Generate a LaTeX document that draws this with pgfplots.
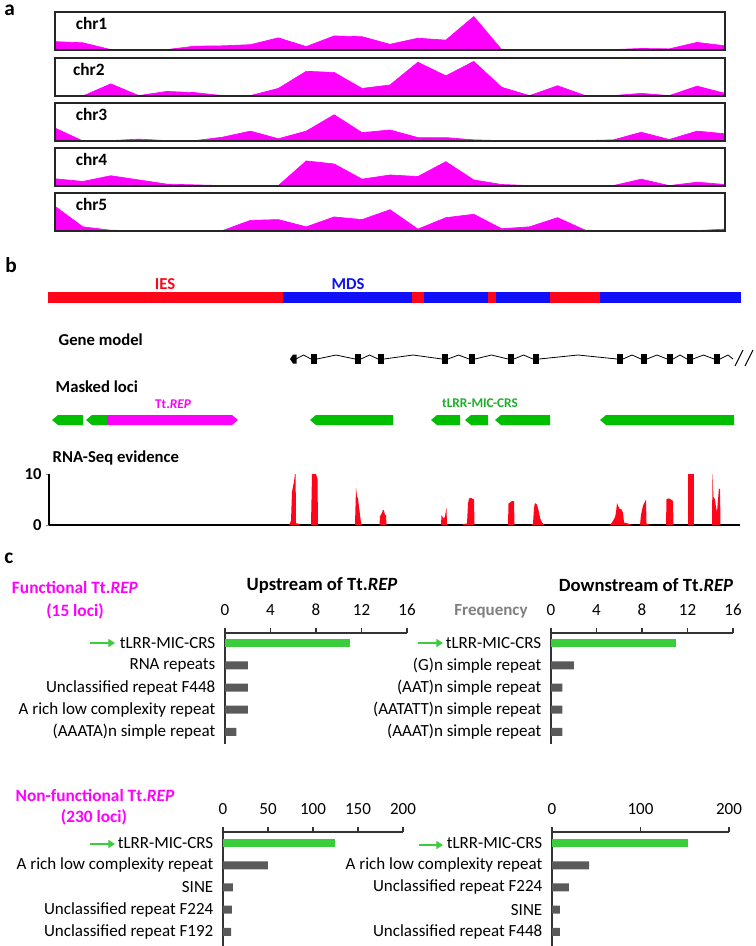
\documentclass[border=0pt]{standalone}
\usepackage{pgfplots}
\pgfplotsset{compat=1.18}
\usepackage{fontspec}
\setmainfont{Carlito}
\usetikzlibrary{arrows.meta}

\definecolor{mag}{RGB}{255,0,255}
\definecolor{ired}{RGB}{255,5,25}
\definecolor{mblue}{RGB}{15,15,250}
\definecolor{lgreen}{RGB}{0,190,0}
\definecolor{bgreen}{RGB}{60,205,60}
\definecolor{dgray}{RGB}{90,90,90}
\definecolor{tgreen}{RGB}{30,175,40}

\pgfplotsset{
  chrax/.style={anchor=north west, scale only axis, width=502.5pt, height=28.5pt,
    xmin=0, xmax=24, ymin=0, ymax=10, xtick=\empty, ytick=\empty,
    axis line style={line width=0.9pt, black!85}, axis on top},
  chrfill/.style={fill=mag, draw=mag, line width=0.5pt},
  hb/.style={anchor=north west, scale only axis, xmin=0,
    axis x line=top, axis y line=left,
    axis line style={-, line width=0.8pt, black!80},
    tick align=outside, major tick length=3.75pt,
    major x tick style={line width=0.8pt, black!80},
    ytick={0,...,4}, major y tick style={draw=none},
    tick label style={font=\fontsize{12.75}{14}\selectfont},
    /pgf/number format/assume math mode=true,
    xticklabel style={yshift=5.5pt},
    clip=false},
}

\begin{document}
\begin{tikzpicture}
\useasboundingbox (0,0) rectangle (567pt,-709.5pt);

% ---------------- panel a ----------------
\begin{axis}[chrax, at={(41.25pt,-9pt)}]
\addplot[chrfill] coordinates {(0,2.2)(1,1.9)(2,0.1)(3,0.1)(4,0.1)(5,1.0)(6,1.1)(7,1.4)(8,3.2)(9,0.9)(10,3.7)(11,3.5)(12,1.5)(13,3.1)(14,2.6)(15,8.8)(16,0.1)(17,0.1)(18,0.1)(19,0.1)(20,0.1)(21,0.4)(22,0.3)(23,2.0)(24,1.1)} \closedcycle;
\node[anchor=west, font=\fontsize{13}{14}\selectfont\bfseries] at (rel axis cs:0.024,0.71) {chr1};
\end{axis}
\begin{axis}[chrax, at={(41.25pt,-43.5pt)}]
\addplot[chrfill] coordinates {(0,0)(1,0)(2,3.2)(3,0.1)(4,1.2)(5,0.9)(6,0.1)(7,0.1)(8,2.0)(9,6.5)(10,6.2)(11,2.0)(12,2.9)(13,8.9)(14,5.3)(15,9.1)(16,2.3)(17,0.1)(18,2.7)(19,0.1)(20,0.1)(21,0.7)(22,0.1)(23,2.6)(24,0.7)} \closedcycle;
\node[anchor=west, font=\fontsize{13}{14}\selectfont\bfseries] at (rel axis cs:0.02,0.71) {chr2};
\end{axis}
\begin{axis}[chrax, at={(41.25pt,-77.25pt)}]
\addplot[chrfill] coordinates {(0,3.4)(1,0)(2,0.1)(3,0.5)(4,0.1)(5,0.1)(6,1.0)(7,2.6)(8,0.6)(9,2.6)(10,6.9)(11,2.2)(12,2.9)(13,0.9)(14,0.9)(15,0.3)(16,0.1)(17,0.1)(18,0.1)(19,0.1)(20,0.3)(21,2.3)(22,0.4)(23,2.6)(24,1.9)} \closedcycle;
\node[anchor=west, font=\fontsize{13}{14}\selectfont\bfseries] at (rel axis cs:0.024,0.71) {chr3};
\end{axis}
\begin{axis}[chrax, at={(41.25pt,-111pt)}]
\addplot[chrfill] coordinates {(0,1.9)(1,1.2)(2,2.7)(3,1.6)(4,0.5)(5,0.3)(6,0.1)(7,0.1)(8,0.1)(9,6.6)(10,5.8)(11,1.8)(12,2.9)(13,2.5)(14,6.4)(15,1.6)(16,0.4)(17,0.1)(18,0.1)(19,0.1)(20,0.1)(21,1.8)(22,0.1)(23,1.0)(24,0.4)} \closedcycle;
\node[anchor=west, font=\fontsize{13}{14}\selectfont\bfseries] at (rel axis cs:0.024,0.71) {chr4};
\end{axis}
\begin{axis}[chrax, at={(41.25pt,-144.75pt)}]
\addplot[chrfill] coordinates {(0,6.5)(1,1.1)(2,0.2)(3,0.1)(4,0.1)(5,0.1)(6,0.1)(7,2.8)(8,3.0)(9,1.1)(10,3.7)(11,3.0)(12,5.6)(13,0.5)(14,3.5)(15,4.4)(16,0.6)(17,1.1)(18,3.5)(19,0.2)(20,0.1)(21,0.1)(22,0.1)(23,0.1)(24,0.5)} \closedcycle;
\node[anchor=west, font=\fontsize{13}{14}\selectfont\bfseries] at (rel axis cs:0.024,0.71) {chr5};
\end{axis}

% ---------------- panel b tracks ----------------
\begin{axis}[at={(0pt,-180pt)}, anchor=north west, scale only axis, width=567pt, height=153.75pt,
  xmin=0, xmax=756, ymin=240, ymax=445, y dir=reverse, hide axis, clip=false]
% IES / MDS bar
\addplot[fill=mblue, draw=none, forget plot] coordinates {(283,292)(741,292)(741,303)(283,303)};
\addplot[fill=ired, draw=none, forget plot] coordinates {(48,292)(283,292)(283,303)(48,303)};
\addplot[fill=ired, draw=none, forget plot] coordinates {(412,292)(424,292)(424,303)(412,303)};
\addplot[fill=ired, draw=none, forget plot] coordinates {(488,292)(496,292)(496,303)(488,303)};
\addplot[fill=ired, draw=none, forget plot] coordinates {(550,292)(600,292)(600,303)(550,303)};
\node[font=\fontsize{12.5}{14}\selectfont\bfseries, text=ired] at (165,284) {IES};
\node[font=\fontsize{12.5}{14}\selectfont\bfseries, text=mblue] at (348,284) {MDS};
% gene model
\node[anchor=west, font=\fontsize{12.5}{14}\selectfont\bfseries] at (54,340) {Gene model};
\addplot[black, line width=0.6pt, no markers, forget plot] coordinates {(296,359)(303.5,355)(311,359)(317,359)(336,355)(355,359)(361,359)(369.5,355)(378,359)(384,359)(413,355)(442,359)(448,359)(458.5,355)(469,359)(475,359)(491.5,355)(508,359)(514,359)(523.5,355)(533,359)(539,359)(578,355)(617,359)(623,359)(632,355)(641,359)(647,359)(657,355)(667,359)(673,359)(680,355)(687,359)(693,359)(703.5,355)(714,359)(720,359)(728,355)(733,359)};
\addplot[black, line width=4.5pt, no markers, unbounded coords=jump, forget plot] coordinates {(314,354)(314,364) (nan,nan) (358,354)(358,364) (nan,nan) (381,354)(381,364) (nan,nan) (445,354)(445,364) (nan,nan) (472,354)(472,364) (nan,nan) (511,354)(511,364) (nan,nan) (536,354)(536,364) (nan,nan) (620,354)(620,364) (nan,nan) (644,354)(644,364) (nan,nan) (670,354)(670,364) (nan,nan) (690,354)(690,364) (nan,nan) (717,354)(717,364)};
\addplot[fill=black, draw=none, forget plot] coordinates {(290,359)(293,354.5)(296.5,354.5)(296.5,363.5)(293,363.5)};
\addplot[black, line width=0.8pt, no markers, unbounded coords=jump, forget plot] coordinates {(735,366)(743,350) (nan,nan) (745,366)(753,350)};
% masked loci
\node[anchor=west, font=\fontsize{12.5}{14}\selectfont\bfseries] at (51,387) {Masked loci};
\node[font=\fontsize{10}{12}\selectfont\bfseries, text=mag] at (173,404) {Tt.\textit{REP}};
\node[font=\fontsize{10}{12}\selectfont\bfseries, text=tgreen] at (480,403) {tLRR-MIC-CRS};
\addplot[fill=lgreen, draw=none, forget plot] coordinates {(52,420)(58,415)(83,415)(83,425)(58,425)};
\addplot[fill=lgreen, draw=none, forget plot] coordinates {(86,420)(92,415)(107,415)(107,425)(92,425)};
\addplot[fill=mag, draw=none, forget plot] coordinates {(107,415)(232,415)(238,420)(232,425)(107,425)};
\addplot[fill=lgreen, draw=none, forget plot] coordinates {(310,420)(316,415)(393,415)(393,425)(316,425)};
\addplot[fill=lgreen, draw=none, forget plot] coordinates {(431,420)(437,415)(460,415)(460,425)(437,425)};
\addplot[fill=lgreen, draw=none, forget plot] coordinates {(465,420)(471,415)(488,415)(488,425)(471,425)};
\addplot[fill=lgreen, draw=none, forget plot] coordinates {(495,420)(501,415)(550,415)(550,425)(501,425)};
\addplot[fill=lgreen, draw=none, forget plot] coordinates {(600,420)(606,415)(734,415)(734,425)(606,425)};
\node[anchor=west, font=\fontsize{12.5}{14}\selectfont\bfseries] at (48,458) {RNA-Seq evidence};
\end{axis}

% RNA-seq evidence
\begin{axis}[at={(36.75pt,-393.75pt)}, anchor=south west, scale only axis, width=518.25pt, height=38.25pt,
  xmin=49, xmax=740, ymin=0, ymax=10, axis x line=bottom, axis y line=left,
  axis line style={-, line width=0.8pt, black}, xtick=\empty, ytick={0,10},
  tick align=outside, major tick length=2pt,
  tick label style={font=\fontsize{12.5}{14}\selectfont\bfseries},
  /pgf/number format/assume math mode=true, clip=false]
\addplot[fill=ired, draw=none] coordinates {(289,0)(290,0.4)(291,0.8)(292,6.5)(293,7.5)(294,8.5)(295,10)(295.6,10)(296,0.3)(298,0.3)(300,0)};
\addplot[fill=ired, draw=none] coordinates {(311,0)(312,10)(316,10)(317.5,9)(318,0)};
\addplot[fill=ired, draw=none] coordinates {(355,0)(356,7.3)(357,5.6)(358,5.2)(359,3.6)(360,2.0)(361,0.5)(361.5,0)};
\addplot[fill=ired, draw=none] coordinates {(379.5,0)(380,1.7)(382,2.4)(383,3.0)(384,2.8)(385,2.0)(386,1.9)(386.5,0)};
\addplot[fill=ired, draw=none] coordinates {(441,0)(441.5,1.9)(443,1.5)(444,1.2)(445,1.8)(446,2.8)(446.5,3.3)(447,0)};
\addplot[fill=ired, draw=none] coordinates {(462,0)(464,0.2)(467,0.3)(468,4.2)(469,5.2)(471,5.3)(474,5.0)(474.5,0)};
\addplot[fill=ired, draw=none] coordinates {(508,0)(508.5,4.2)(510,4.4)(512,4.7)(514,4.7)(514.5,0)};
\addplot[fill=ired, draw=none] coordinates {(531,0)(533,0.2)(534,3.4)(535,4.3)(537,4.0)(538,3.3)(539,2.5)(540,1.4)(542,0.5)(544,0.1)(545,0)};
\addplot[fill=ired, draw=none] coordinates {(610,0)(612,0.5)(615,1.5)(616,2.5)(617,4.3)(618,3.8)(620,3.0)(621,3.2)(623,2.4)(624,0.5)(628,0.3)(632,0)};
\addplot[fill=ired, draw=none] coordinates {(640,0)(641,2.0)(643,3.8)(645,4.6)(646,5.0)(646.5,0.3)(650,0)};
\addplot[fill=ired, draw=none] coordinates {(666,0)(666.5,5.1)(669,5.2)(671,5.0)(673,4.7)(673.5,0)};
\addplot[fill=ired, draw=none] coordinates {(688,0)(688,10)(694,10)(694,0)};
\addplot[fill=ired, draw=none] coordinates {(712,0)(712.5,10)(713.5,5.5)(715,5.0)(716,3.5)(717,2.5)(718,5.0)(719,7.2)(720,7.0)(720.5,0)};
\end{axis}

% ---------------- panel c ----------------
% Functional, upstream
\begin{axis}[hb, at={(168.75pt,-474.75pt)}, width=136.5pt, height=83.25pt,
  xmax=16, xtick={0,4,8,12,16}, ymin=-0.545, ymax=4.4545,
  yticklabels={(AAATA)n simple repeat, A rich low complexity repeat, Unclassified repeat F448, RNA repeats, tLRR-MIC-CRS}]
\addplot[xbar, bar width=6pt, bar shift=0pt, fill=bgreen, draw=none] coordinates {(11,4)};
\addplot[xbar, bar width=6pt, bar shift=0pt, fill=dgray, draw=none] coordinates {(2,3)(2,2)(2,1)(1,0)};
\end{axis}
% Functional, downstream
\begin{axis}[hb, at={(413.25pt,-474.75pt)}, width=136.5pt, height=83.25pt,
  xmax=16, xtick={0,4,8,12,16}, ymin=-0.545, ymax=4.4545,
  yticklabels={(AAAT)n simple repeat, (AATATT)n simple repeat, (AAT)n simple repeat, (G)n simple repeat, tLRR-MIC-CRS}]
\addplot[xbar, bar width=6pt, bar shift=0pt, fill=bgreen, draw=none] coordinates {(11,4)};
\addplot[xbar, bar width=6pt, bar shift=0pt, fill=dgray, draw=none] coordinates {(2,3)(1,2)(1,1)(1,0)};
\end{axis}
% Non-functional, upstream
\begin{axis}[hb, at={(167.25pt,-624pt)}, width=135pt, height=85.5pt,
  xmax=200, xtick={0,50,100,150,200}, ymin=-0.64, ymax=4.5,
  yticklabels={Unclassified repeat F192, Unclassified repeat F224, SINE, A rich low complexity repeat, tLRR-MIC-CRS}]
\addplot[xbar, bar width=6pt, bar shift=0pt, fill=bgreen, draw=none] coordinates {(125,4)};
\addplot[xbar, bar width=6pt, bar shift=0pt, fill=dgray, draw=none] coordinates {(50,3)(11,2)(10,1)(9,0)};
\end{axis}
% Non-functional, downstream
\begin{axis}[hb, at={(414pt,-624pt)}, width=132.75pt, height=85.5pt,
  xmax=200, xtick={0,100,200}, ymin=-0.64, ymax=4.5,
  yticklabels={Unclassified repeat F448, SINE, Unclassified repeat F224, A rich low complexity repeat, tLRR-MIC-CRS}]
\addplot[xbar, bar width=6pt, bar shift=0pt, fill=bgreen, draw=none] coordinates {(154,4)};
\addplot[xbar, bar width=6pt, bar shift=0pt, fill=dgray, draw=none] coordinates {(42,3)(19,2)(9,1)(9,0)};
\end{axis}

% ---------------- labels ----------------
\begin{scope}[x=0.75pt, y=-0.75pt]
\node[font=\fontsize{16}{18}\selectfont\bfseries, inner sep=0pt, anchor=base west] at (4,15) {a};
\node[font=\fontsize{16}{18}\selectfont\bfseries, inner sep=0pt, anchor=base west] at (5,272) {b};
\node[font=\fontsize{16}{18}\selectfont\bfseries, inner sep=0pt, anchor=base west] at (4,563) {c};
\node[font=\fontsize{13}{15}\selectfont\bfseries, text=mag] at (75,587) {Functional Tt.\textit{REP}};
\node[font=\fontsize{13}{15}\selectfont\bfseries, text=mag] at (75,611) {(15 loci)};
\node[font=\fontsize{13}{15}\selectfont\bfseries, text=mag] at (95,795) {Non-functional Tt.\textit{REP}};
\node[font=\fontsize{13}{15}\selectfont\bfseries, text=mag] at (94,817) {(230 loci)};
\node[font=\fontsize{14}{15}\selectfont\bfseries] at (322,585) {Upstream of Tt.\textit{REP}};
\node[font=\fontsize{14}{15}\selectfont\bfseries] at (646,585) {Downstream of Tt.\textit{REP}};
\node[font=\fontsize{12.75}{14}\selectfont\bfseries, text=black!50] at (491,611) {Frequency};
\draw[bgreen, line width=1.5pt, -{Triangle[length=5pt, width=6pt]}] (90,643) -- (115,643);
\draw[bgreen, line width=1.5pt, -{Triangle[length=5pt, width=6pt]}] (418,643) -- (443,643);
\draw[bgreen, line width=1.5pt, -{Triangle[length=5pt, width=6pt]}] (90,844) -- (115,844);
\draw[bgreen, line width=1.5pt, -{Triangle[length=5pt, width=6pt]}] (419,845) -- (443,845);
\end{scope}
\end{tikzpicture}
\end{document}
